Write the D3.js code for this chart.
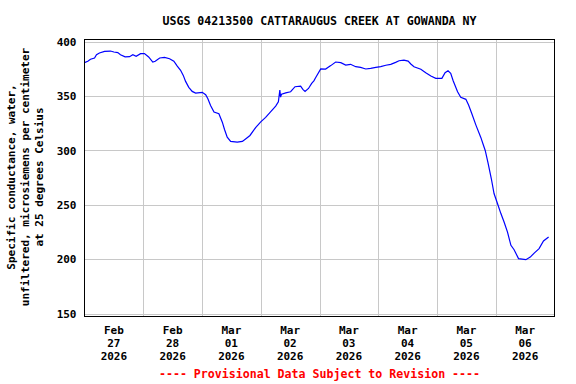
<!DOCTYPE html>
<html>
<head>
<meta charset="utf-8">
<script src="https://cdn.jsdelivr.net/npm/d3@7"></script>
<style>
  html, body { margin: 0; padding: 0; background: #fff; }
  text { font-family: "DejaVu Sans Mono", "Liberation Mono", monospace; font-weight: bold; }
</style>
</head>
<body>
<div id="chart"></div>
<script>
// Hours since 2026-02-27 00:00 (local)
const hours = [
  0, 1.35, 2.45, 4.1, 4.9, 6.1, 8.2, 10.6, 12, 13.6, 14.7, 16.6, 18.4, 19.75, 21.1, 22.9,
  24.5, 26.2, 27.9, 28.9, 30.7, 32.7, 34.75, 36.5, 37.9, 39.25, 40.35, 41.3, 42.6, 44, 45.4,
  48.1, 49.5, 50.4, 51.5, 52.9, 54.9, 56.3, 57.2, 58.3, 59.7, 62.4, 64.5, 66.2, 67.6, 69.9,
  72, 74, 76, 78.1, 79.2, 79.8, 80.1, 80.5, 82.2, 84.2, 86, 88.3, 89.2, 90.1, 91.5, 92.8,
  93.7, 94.4, 96.5, 98.5, 100.6, 102.6, 104.7, 106.7, 108.7, 110.8, 112.8, 114.9, 116.9,
  119, 121, 123.1, 125.1, 127.1, 128.5, 130.5, 132.2, 133.3, 134.6, 137.4, 139.4, 141.5,
  143.5, 146, 147.3, 148.5, 149.6, 150.6, 152.4, 153.7, 155.8, 156.9, 158.2, 159.9, 161.9,
  162.8, 163.7, 164.8, 166.2, 167.3, 168.7, 170.1, 171.4, 172.8, 174.2, 175.5, 177.3,
  180.3, 182.1, 183.7, 185.7, 187.5, 189.6
]
// Specific conductance, uS/cm at 25 C
const conductance = [
  380.7, 382, 383.8, 385, 388, 389.6, 391, 391.4, 390.5, 390, 388, 386, 386.2, 388, 386.5, 389,
  389, 386, 381.3, 382, 385, 385.6, 384.3, 382, 377.6, 373.7, 369, 363.5, 358, 354.3, 352.7,
  353.4, 351.2, 347.5, 341.4, 335.3, 333.7, 326, 319.3, 312.2, 308.3, 307.6, 308.3, 311.3, 313.8, 321,
  326.3, 330.4, 335.5, 340.8, 344.8, 355.5, 349, 351.8, 353, 354, 358.6, 359.2, 356.2, 354.3, 357, 361.7,
  364, 366.8, 375, 374.8, 378, 381.3, 380.7, 378.5, 379.2, 377, 376.4, 374.9, 375.5,
  376.4, 377, 378.3, 379.2, 381, 382.5, 383.1, 382.2, 379.5, 377, 374.6, 371.5, 368.4,
  366.3, 366.3, 371.5, 373.3, 370.9, 364.1, 354, 348.8, 347, 341.7, 334, 323.3, 312,
  306, 300, 289, 274, 260.4, 251.2, 242, 234.3, 225, 212.8, 208.8, 200.6,
  199.6, 202, 205.7, 209.8, 216.8, 220.4
]
const yTicks = [150, 200, 250, 300, 350, 400]
const titleText = 'USGS 04213500 CATTARAUGUS CREEK AT GOWANDA NY'
const yTitleLines = [
  'Specific conductance, water,',
  'unfiltered, microsiemens per centimeter',
  'at 25 degrees Celsius'
]
const footnote = '---- Provisional Data Subject to Revision ----'

const width = 576
const height = 384
const plot = { left: 84.5, right: 554.5, top: 39.5, bottom: 316.5 }

const start = new Date(2026, 1, 27)
const end = new Date(2026, 2, 7)
const data = hours.map((h, i) => ({
  time: new Date(start.getTime() + h * 3600 * 1000),
  value: conductance[i]
}))

const svg = d3.select('#chart')
  .append('svg')
  .attr('width', width)
  .attr('height', height)

const x = d3.scaleTime()
  .domain([start, end])
  .range([plot.left, plot.right])

const y = d3.scaleLinear()
  .domain([147.4, 402])
  .range([plot.bottom, plot.top])

// Сетка
const days = d3.timeDay.range(d3.timeDay.offset(start, 1), end)
svg.append('g')
  .selectAll('line')
  .data(days)
  .join('line')
  .attr('x1', d => Math.round(x(d)) + 0.5)
  .attr('x2', d => Math.round(x(d)) + 0.5)
  .attr('y1', plot.top)
  .attr('y2', plot.bottom)
  .attr('stroke', '#c8c8c8')
  .attr('shape-rendering', 'crispEdges')

svg.append('g')
  .selectAll('line')
  .data(yTicks)
  .join('line')
  .attr('x1', plot.left)
  .attr('x2', plot.right)
  .attr('y1', d => Math.round(y(d)) + 0.5)
  .attr('y2', d => Math.round(y(d)) + 0.5)
  .attr('stroke', '#c8c8c8')
  .attr('shape-rendering', 'crispEdges')

// Линия
const line = d3.line()
  .x(d => x(d.time))
  .y(d => y(d.value))

svg.append('path')
  .datum(data)
  .attr('fill', 'none')
  .attr('stroke', '#0000ff')
  .attr('stroke-width', 1.2)
  .attr('d', line)

// Рамка
svg.append('rect')
  .attr('x', plot.left)
  .attr('y', plot.top)
  .attr('width', plot.right - plot.left)
  .attr('height', plot.bottom - plot.top)
  .attr('fill', 'none')
  .attr('stroke', '#000')
  .attr('shape-rendering', 'crispEdges')

// Ось Y
svg.append('g')
  .attr('transform', `translate(${plot.left - 6},0)`)
  .call(d3.axisLeft(y).tickValues(yTicks).tickSize(0).tickPadding(2))
  .call(g => g.select('.domain').remove())
  .selectAll('text')
  .style('font-family', '"DejaVu Sans Mono", monospace')
  .style('font-weight', 'bold')
  .style('font-size', '11px')
  .attr('fill', '#000')

// Ось X: подписи в полдень
const noons = d3.timeDay.range(start, end).map(d => d3.timeHour.offset(d, 12))
const fmt = [d3.timeFormat('%b'), d3.timeFormat('%d'), d3.timeFormat('%Y')]
const xl = svg.append('g')
  .selectAll('text')
  .data(noons)
  .join('text')
  .attr('x', d => x(d))
  .attr('y', 334)
  .attr('text-anchor', 'middle')
  .attr('font-size', '11px')
  .attr('fill', '#000')
xl.selectAll('tspan')
  .data(d => fmt.map(f => f(d)))
  .join('tspan')
  .attr('x', function () { return d3.select(this.parentNode).attr('x') })
  .attr('dy', (d, i) => i === 0 ? 0 : 13)
  .text(d => d)

// Заголовок
svg.append('text')
  .attr('x', (plot.left + plot.right) / 2)
  .attr('y', 25)
  .attr('text-anchor', 'middle')
  .attr('font-size', '11.6px')
  .attr('fill', '#000')
  .text(titleText)

// Подпись оси Y
svg.append('g')
  .selectAll('text')
  .data(yTitleLines)
  .join('text')
  .attr('transform', (d, i) => `translate(${15 + i * 14},177) rotate(-90)`)
  .attr('text-anchor', 'middle')
  .attr('font-size', '11px')
  .attr('fill', '#000')
  .text(d => d)

// Примечание
svg.append('text')
  .attr('x', (plot.left + plot.right) / 2)
  .attr('y', 378)
  .attr('text-anchor', 'middle')
  .attr('font-size', '11.6px')
  .attr('fill', '#ff0000')
  .text(footnote)
</script>
</body>
</html>
